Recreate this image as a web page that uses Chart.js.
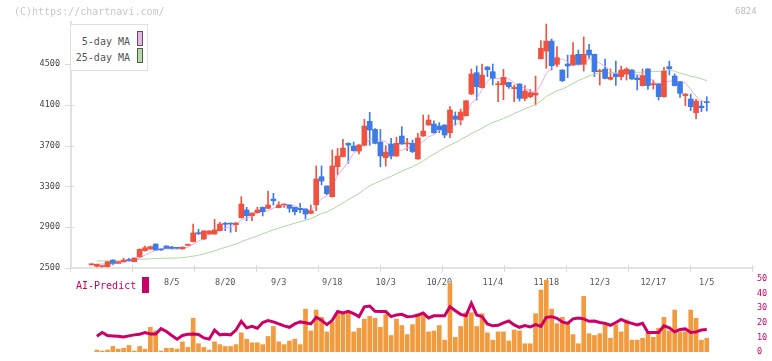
<!DOCTYPE html>
<html>
<head>
<meta charset="utf-8">
<script src="https://cdn.jsdelivr.net/npm/chart.js"></script>
<style>
  body { margin: 0; background: #fff; }
  #wrap { position: relative; width: 772px; height: 361px; overflow: hidden; font-family: 'DejaVu Sans Mono', monospace; }
  canvas { position: absolute; left: 0; }
  #price { top: 0; }
  #vol { top: 270px; }
  .txt { position: absolute; white-space: nowrap; line-height: 1; }
  #legend { position: absolute; left: 70px; top: 24px; width: 76px; height: 45px; border: 1px solid #e0e0e0; background: #fff; }
  .swatch { position: absolute; width: 4px; height: 13px; border: 1px solid #555; }
</style>
</head>
<body>
<div id="wrap">
  <canvas id="price" width="772" height="295"></canvas>
  <canvas id="vol" width="772" height="91"></canvas>
  <div class="txt" style="left:14px; top:7px; font-size:10px; color:#c8c8c8;">(C)https://chartnavi.com/</div>
  <div class="txt" style="left:735px; top:7px; font-size:9px; color:#bbb;">6824</div>
  <div id="legend">
    <div class="txt" style="right:17px; top:12px; font-size:10px; color:#555;">5-day MA</div>
    <div class="swatch" style="left:66px; top:6px; background:#eab5ee;"></div>
    <div class="txt" style="right:17px; top:28px; font-size:10px; color:#555;">25-day MA</div>
    <div class="swatch" style="left:66px; top:23px; background:#b3dca5;"></div>
  </div>
  <div class="txt" style="left:76px; top:281px; font-size:10px; color:#cc0066;">AI-Predict</div>
  <div style="position:absolute; left:142px; top:277px; width:7px; height:16px; background:#cc0066;"></div>
</div>
<script>
// tick labels
const dateTicks = ['8/5', '8/20', '9/3', '9/18', '10/3', '10/20', '11/4', '11/18', '12/3', '12/17', '1/5'];
const dateTickIdx = [15, 25, 35, 45, 55, 65, 75, 85, 95, 105, 115];
const priceTicks = [2500, 2900, 3300, 3700, 4100, 4500];
const aiTicks = [0, 10, 20, 30, 40, 50];

// daily prices
const openP = [2532,2517,2513,2513,2578,2546,2562,2578,2562,2608,2670,2686,2735,2683,2716,2706,2698,2688,2722,2758,
  2846,2784,2833,2833,2866,2938,2938,2925,2993,3069,3013,3042,3095,3085,3176,3092,3118,3118,3095,3085,
  3078,3036,3118,3395,3304,3199,3493,3591,3722,3696,3647,3703,3938,3859,3735,3582,3716,3598,3794,3716,
  3722,3569,3794,3902,3912,3892,3902,3827,3990,3951,3993,4206,4415,4268,4471,4425,4297,4297,4320,4258,
  4304,4163,4180,4196,4552,4627,4725,4497,4441,4500,4490,4595,4497,4637,4595,4425,4451,4350,4402,4376,
  4402,4441,4363,4288,4451,4297,4304,4180,4474,4382,4327,4190,4157,4023,4088,4131];
const highP = [2540,2538,2522,2565,2580,2565,2595,2595,2600,2688,2716,2715,2737,2688,2718,2712,2702,2708,2735,2931,
  2879,2866,2866,2977,2948,2948,2940,2945,3199,3095,3042,3095,3098,3255,3232,3150,3127,3121,3098,3134,
  3082,3118,3500,3500,3306,3657,3673,3761,3728,3735,3709,3958,4026,3866,3859,3700,3771,3781,3886,3771,
  3755,3820,4000,4000,3944,3925,3905,4082,4030,4059,4145,4451,4480,4500,4475,4500,4330,4448,4322,4294,
  4307,4288,4250,4382,4729,4892,4745,4670,4445,4588,4709,4637,4765,4693,4598,4448,4549,4451,4529,4480,
  4464,4445,4392,4451,4455,4343,4310,4467,4529,4402,4330,4209,4206,4157,4137,4180];
const lowP = [2528,2510,2510,2510,2530,2543,2560,2562,2560,2605,2665,2683,2674,2672,2688,2685,2688,2683,2720,2755,
  2830,2780,2830,2830,2863,2866,2850,2856,2990,2964,2964,3040,3010,3082,3118,3090,3095,3046,3020,3042,
  2980,3033,3062,3314,3216,3195,3412,3588,3526,3646,3618,3700,3703,3716,3493,3500,3569,3595,3712,3650,
  3631,3565,3790,3899,3820,3827,3778,3778,3902,3902,3990,4200,4147,4265,4376,4294,4131,4150,4261,4131,
  4137,4140,4170,4098,4549,4458,4441,4474,4327,4366,4487,4490,4431,4556,4376,4294,4355,4343,4290,4343,
  4343,4350,4245,4285,4252,4255,4147,4176,4392,4285,4173,4092,4042,3961,4033,4039];
const closeP = [2536,2536,2520,2562,2545,2562,2578,2573,2598,2683,2699,2709,2676,2677,2692,2692,2693,2704,2732,2843,
  2835,2863,2863,2873,2931,2928,2931,2941,3127,3013,3039,3069,3052,3118,3160,3118,3124,3085,3052,3072,
  3029,3062,3373,3353,3228,3500,3598,3676,3705,3650,3706,3892,3853,3722,3598,3637,3598,3722,3716,3722,
  3641,3775,3843,3951,3827,3856,3804,4049,3958,4029,4140,4402,4278,4392,4444,4360,4307,4369,4278,4271,
  4163,4235,4219,4216,4654,4725,4484,4562,4337,4481,4588,4497,4595,4588,4425,4435,4359,4369,4376,4441,
  4451,4353,4346,4386,4288,4307,4180,4431,4454,4288,4212,4206,4082,4137,4072,4121];

// moving averages
const ma5 = [null,2540,2538,2540,2540,2545,2553,2564,2571,2599,2626,2652,2673,2689,2691,2689,2686,2692,2703,2733,
  2761,2795,2827,2855,2873,2892,2905,2921,2972,2988,3010,3038,3060,3058,3088,3103,3114,3121,3108,3090,
  3072,3060,3118,3178,3209,3303,3410,3471,3541,3626,3667,3726,3761,3765,3754,3740,3682,3655,3654,3679,
  3680,3715,3739,3786,3807,3850,3856,3897,3899,3939,3996,4116,4161,4248,4331,4375,4356,4374,4352,4317,
  4278,4263,4233,4221,4297,4410,4460,4528,4552,4518,4490,4493,4500,4550,4539,4508,4480,4435,4393,4396,
  4399,4398,4393,4395,4365,4336,4301,4318,4332,4332,4313,4318,4248,4185,4142,4124];
const ma25 = [null,2569,2569,2570,2570,2571,2571,2572,2580,2585,2587,2590,2594,2595,2596,2597,2598,2602,2608,2616,
  2626,2638,2652,2668,2687,2703,2718,2735,2758,2777,2796,2815,2835,2855,2874,2891,2908,2924,2939,2954,
  2968,2983,3009,3034,3050,3076,3106,3138,3171,3200,3231,3270,3306,3330,3353,3377,3398,3425,3449,3472,
  3493,3519,3549,3585,3615,3648,3678,3705,3729,3761,3787,3819,3843,3870,3902,3928,3945,3966,3988,4015,
  4036,4061,4081,4101,4138,4182,4210,4239,4254,4281,4310,4338,4359,4385,4400,4412,4410,4414,4413,4413,
  4417,4419,4418,4422,4423,4429,4426,4435,4444,4430,4409,4398,4379,4371,4355,4336];

// lower panel
const volume = [null,1.25,0.6,1.25,3.75,1.9,2.5,4.4,0.6,3.75,1.9,16.9,14.4,0.6,2.5,2.5,1.9,6.9,3.1,23.1,
  5.6,3.1,1.25,6.9,5,3.75,3.75,5,13.1,8.75,6.25,6.25,5,10.6,17.5,6.9,5,7.5,8.75,5,
  29.4,14.4,28.75,23.75,13.75,20.6,26.25,26.25,27.5,13.75,16.25,22.5,24.4,23.1,16.9,25.6,11.25,22.5,18.1,11.9,
  18.75,26.25,25,13.75,14.4,18.1,8.1,47,10,17.5,26.9,26.9,17.5,26.25,13.1,8.1,13.75,13.75,7.5,15,
  14.4,5.6,5.6,26.25,42.5,49.2,29.4,19.4,23.75,20,11.9,5.6,38.1,12.5,11.25,12.5,18.75,9.4,18.75,13.75,
  21.9,8.1,8.1,9.4,13.1,10,16.25,23.75,14.4,28.75,13.75,13.75,28.75,23.1,8.1,9.4];
const aiPredict = [null,10.8,13.3,11.25,11,10.8,10.2,11,11.7,12.1,13.3,12.3,12.3,16,14,11.25,8.75,11.25,12.1,12.3,
  11.9,9.6,8.75,15,11.7,12.1,11.7,15,21,16.5,17.5,16.25,20.2,21.5,20.6,19.2,17.9,16.9,19.2,20.6,
  20,19.2,23.75,21.7,18.75,21.7,27.7,26.7,27.9,26.25,24.2,31,31.5,27.9,27.7,27.7,24.2,25.4,25.8,24.2,
  24.4,25.2,26.7,23.3,24.8,24.8,24.8,31,28.3,25.8,24.8,33.5,25.4,24.2,19.2,17.9,18.3,20,21.25,18.5,
  16.9,18.1,17.1,18.75,17.5,23.75,24.2,23.1,20.6,19.6,22.7,23.3,22.7,21,21.25,20.2,19.6,18.3,20.2,22.3,
  20.6,19.6,18.5,19.6,13.3,13.3,13.3,17.9,16.5,13.75,15.4,15.8,13.3,13.75,15,15.4];

const xMin = -3.83;
const xMax = 123.64;
const gridCount = 11;
const monoFont = 'DejaVu Sans Mono';

const idx = closeP.map((c, i) => i);
const candleColor = i => closeP[i] >= openP[i] ? '#ef5340' : '#3f7be8';

const crossTicks = {
  id: 'crossTicks',
  afterDraw(chart) {
    const { ctx, chartArea: a, scales: { y } } = chart;
    ctx.save();
    ctx.strokeStyle = '#dcdcdc';
    ctx.lineWidth = 1;
    ctx.beginPath();
    for (let k = 0; k <= gridCount; k++) {
      const px = Math.round(a.left + (a.right - a.left) * k / gridCount) - 0.5;
      ctx.moveTo(px, a.bottom - 3);
      ctx.lineTo(px, a.bottom + 4);
    }
    y.ticks.forEach(t => {
      const py = Math.round(y.getPixelForValue(t.value)) + 0.5;
      ctx.moveTo(a.left - 6, py);
      ctx.lineTo(a.left + 3, py);
    });
    ctx.stroke();
    ctx.restore();
  }
};

new Chart(document.getElementById('price'), {
  type: 'bar',
  data: {
    datasets: [
      {
        label: 'body',
        data: idx.map(i => ({ x: i, y: [openP[i], closeP[i]] })),
        backgroundColor: c => candleColor(c.dataIndex),
        barThickness: 5,
        minBarLength: 1,
        grouped: false,
        order: 0
      },
      {
        type: 'line',
        label: '5-day MA',
        data: idx.map(i => ({ x: i, y: ma5[i] })),
        borderColor: '#e8aeec',
        borderWidth: 1,
        pointRadius: 0,
        order: 1
      },
      {
        type: 'line',
        label: '25-day MA',
        data: idx.map(i => ({ x: i, y: ma25[i] })),
        borderColor: '#acd8a0',
        borderWidth: 1,
        pointRadius: 0,
        order: 2
      },
      {
        label: 'wick',
        data: idx.map(i => ({ x: i, y: [lowP[i], highP[i]] })),
        backgroundColor: c => candleColor(c.dataIndex),
        barThickness: 1,
        grouped: false,
        order: 3
      }
    ]
  },
  options: {
    responsive: false,
    animation: false,
    devicePixelRatio: 1,
    layout: { padding: { top: 22, right: 19, left: 0, bottom: 0 } },
    plugins: { legend: { display: false }, tooltip: { enabled: false } },
    scales: {
      x: {
        type: 'linear',
        min: xMin,
        max: xMax,
        offset: false,
        grid: { display: false, drawTicks: false },
        border: { color: '#e2e2e2', width: 2 },
        afterBuildTicks: s => { s.ticks = dateTickIdx.map(v => ({ value: v })); },
        afterFit: s => { s.height = 27; },
        ticks: {
          autoSkip: false,
          maxRotation: 0,
          padding: 10,
          color: '#555',
          font: { family: monoFont, size: 8.5 },
          callback: v => dateTicks[dateTickIdx.indexOf(v)]
        }
      },
      y: {
        min: 2500,
        max: 4912,
        grid: { display: false, drawTicks: false },
        border: { color: '#e2e2e2', width: 2 },
        afterBuildTicks: s => { s.ticks = priceTicks.map(v => ({ value: v })); },
        afterFit: s => { s.width = 71; },
        ticks: {
          padding: 11,
          color: '#444',
          font: { family: monoFont, size: 8.5 },
          callback: v => String(v)
        }
      }
    }
  },
  plugins: [crossTicks]
});

new Chart(document.getElementById('vol'), {
  type: 'bar',
  data: {
    datasets: [
      {
        type: 'line',
        label: 'AI-Predict',
        data: idx.map(i => ({ x: i, y: aiPredict[i] })),
        borderColor: '#cc0066',
        borderWidth: 3,
        pointRadius: 0,
        order: 0
      },
      {
        label: 'volume',
        data: idx.map(i => ({ x: i, y: volume[i] })),
        backgroundColor: '#f19a3e',
        barThickness: 4,
        order: 1
      }
    ]
  },
  options: {
    responsive: false,
    animation: false,
    devicePixelRatio: 1,
    layout: { padding: { top: 8, right: 0, left: 71, bottom: 3 } },
    plugins: { legend: { display: false }, tooltip: { enabled: false } },
    scales: {
      x: { type: 'linear', min: xMin, max: xMax, offset: false, display: false },
      y: {
        position: 'right',
        min: 0,
        max: 50,
        grid: { display: false, drawTicks: false },
        border: { display: false },
        afterBuildTicks: s => { s.ticks = aiTicks.map(v => ({ value: v })); },
        afterFit: s => { s.width = 19; },
        ticks: {
          padding: 4,
          color: '#cc0066',
          font: { family: monoFont, size: 8.5 },
          callback: v => String(v)
        }
      }
    }
  }
});
</script>
</body>
</html>
